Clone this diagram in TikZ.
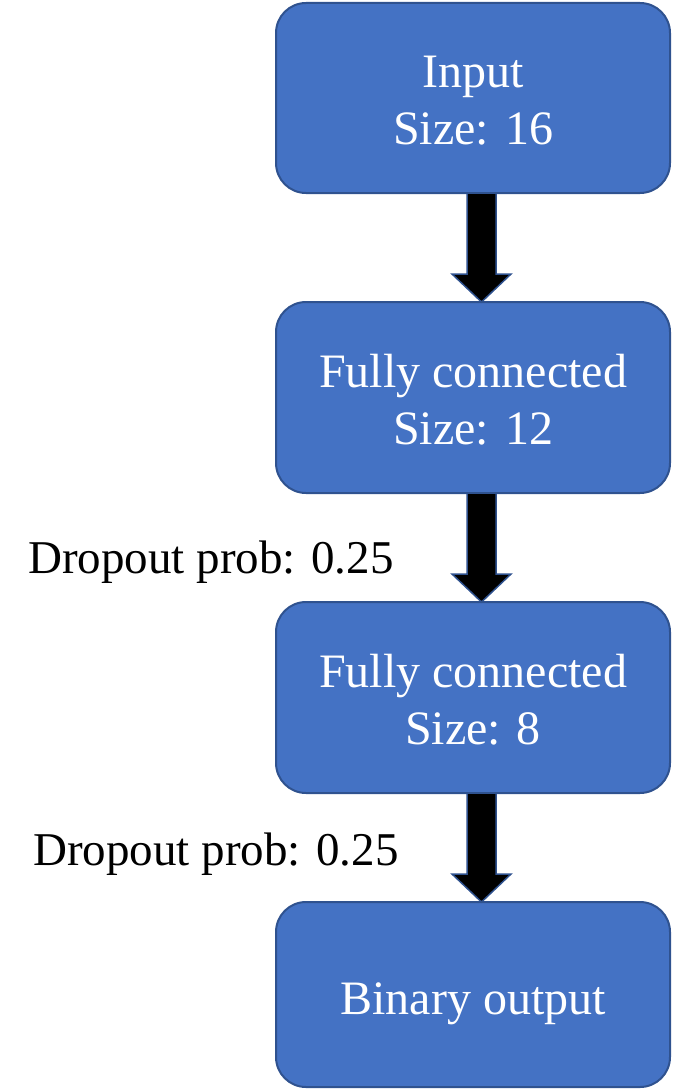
\documentclass[tikz,border=0pt]{standalone}
\usepackage{fontspec}
\setmainfont{Liberation Serif}
\usetikzlibrary{calc}
\definecolor{boxfill}{HTML}{4472C4}
\definecolor{boxline}{HTML}{2F528F}
\tikzset{
  layerbox/.style={draw=boxline, line width=2pt, fill=boxfill, rounded corners=30pt,
    minimum width=394pt, inner sep=0pt, outer sep=0pt, text=white,
    font=\fontsize{48}{57}\selectfont},
  droplabel/.style={anchor=base west, inner sep=0pt, text=black, font=\fontsize{47}{56}\selectfont},
  blockarrow/.style={fill=black, draw=boxline, line width=1.5pt, line join=miter}
}
\newcommand{\twolines}[2]{\raisebox{-7pt}[\height][\depth]{\begin{tabular}{@{}c@{}}#1\\#2\end{tabular}}}
\newcommand{\blockarr}[2]{%
  \draw[blockarrow] let \p1=(#1.south), \p2=(#2.north) in
    (\x1+8.5pt-14.5pt,\y1) -- (\x1+8.5pt+14.5pt,\y1) -- (\x1+8.5pt+14.5pt,\y2+28pt)
    -- (\x1+8.5pt+29.5pt,\y2+28pt) -- (\x1+8.5pt,\y2) -- (\x1+8.5pt-29.5pt,\y2+28pt)
    -- (\x1+8.5pt-14.5pt,\y2+28pt) -- cycle;}
\begin{document}
\begin{tikzpicture}[x=1pt,y=-1pt]
\useasboundingbox (0,0) rectangle (672,1089);
\node[layerbox, minimum height=190pt] (in) at (473,98) {\twolines{Input}{Size: 16}};
\node[layerbox, minimum height=191pt] (fc1) at (473,397.5) {\twolines{Fully connected}{Size: 12}};
\node[layerbox, minimum height=191pt] (fc2) at (473,697.5) {\twolines{Fully connected}{Size: 8}};
\node[layerbox, minimum height=185pt] (out) at (473,994.5) {\raisebox{-9pt}[\height][\depth]{Binary output}};
\blockarr{in}{fc1}
\blockarr{fc1}{fc2}
\blockarr{fc2}{out}
\node[droplabel] (d1) at (28,573) {Dropout prob: 0.25};
\node[droplabel] (d2) at (33,865) {Dropout prob: 0.25};
\end{tikzpicture}
\end{document}
